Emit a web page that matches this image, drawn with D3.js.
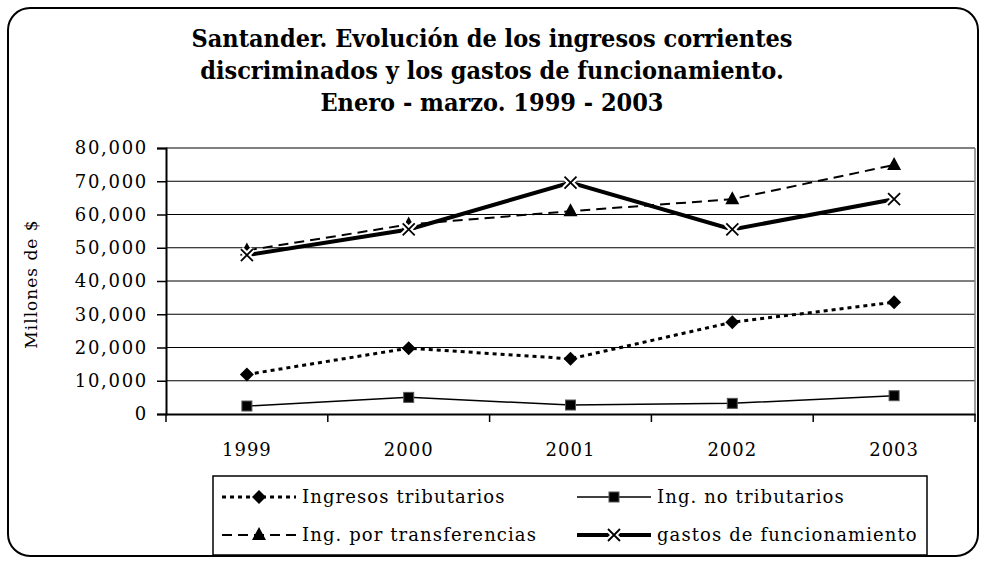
<!DOCTYPE html>
<html>
<head>
<meta charset="utf-8">
<script src="https://cdn.jsdelivr.net/npm/d3@7.9.0/dist/d3.min.js"></script>
<style>
  body { margin: 0; background: #fff; }
  svg { display: block; font-family: "DejaVu Serif", serif; }
</style>
</head>
<body>
<div id="chart"></div>
<script>
const years = ['1999', '2000', '2001', '2002', '2003'];
const tributarios = [11900, 19800, 16600, 27600, 33600];
const noTributarios = [2400, 5000, 2700, 3200, 5500];
const transferencias = [49200, 57000, 61000, 64600, 74900];
const gastos = [47800, 55500, 69600, 55500, 64600];
const yTicks = [0, 10000, 20000, 30000, 40000, 50000, 60000, 70000, 80000];
const titleLines = [
    'Santander. Evolución de los ingresos corrientes',
    'discriminados y los gastos de funcionamiento.',
    'Enero - marzo. 1999 - 2003'
];

const svg = d3.select('#chart')
    .append('svg')
    .attr('width', 984)
    .attr('height', 562);

// outer rounded frame
svg.append('rect')
    .attr('x', 8).attr('y', 8)
    .attr('width', 970).attr('height', 548)
    .attr('rx', 22).attr('ry', 22)
    .attr('fill', 'none')
    .attr('stroke', 'black')
    .attr('stroke-width', 2);

// title
svg.append('text')
    .attr('text-anchor', 'middle')
    .attr('font-family', '"DejaVu Serif Condensed", "DejaVu Serif", serif')
    .attr('font-weight', 'bold')
    .attr('font-size', 25)
    .selectAll('tspan')
    .data(titleLines)
    .join('tspan')
    .attr('x', 492)
    .attr('y', (d, i) => 47 + i * 32)
    .text(d => d);

const plot = { left: 166, right: 975, top: 148, bottom: 414 };

const x = d3.scaleBand()
    .domain(years)
    .range([plot.left, plot.right]);

const y = d3.scaleLinear()
    .domain([0, 80000])
    .range([plot.bottom, plot.top]);

// gridlines
svg.append('g')
    .selectAll('line')
    .data(yTicks.filter(d => d > 0))
    .join('line')
    .attr('x1', plot.left).attr('x2', plot.right)
    .attr('y1', d => y(d)).attr('y2', d => y(d))
    .attr('stroke', d => d === 80000 ? '#808080' : 'black')
    .attr('stroke-width', d => d === 80000 ? 2 : 1.2);

// right plot border
svg.append('line')
    .attr('x1', plot.right).attr('x2', plot.right)
    .attr('y1', plot.top).attr('y2', plot.bottom)
    .attr('stroke', '#808080')
    .attr('stroke-width', 1.5);

// y axis
const yAxis = svg.append('g')
    .attr('transform', `translate(${plot.left},0)`)
    .call(d3.axisLeft(y).tickValues(yTicks).tickSize(9).tickPadding(9)
        .tickFormat(d3.format(',')));
yAxis.select('.domain').attr('stroke-width', 2);
yAxis.selectAll('.tick line').attr('stroke-width', 1.5);
yAxis.selectAll('text')
    .attr('font-family', '"DejaVu Serif", serif')
    .attr('font-size', 18)
    .attr('letter-spacing', 1.7)
    .attr('fill', 'black');

// x axis
const xAxis = svg.append('g')
    .attr('transform', `translate(0,${plot.bottom})`)
    .call(d3.axisBottom(x).tickSize(0).tickPadding(29));
xAxis.select('.domain').attr('stroke-width', 2);
xAxis.selectAll('text')
    .attr('font-family', '"DejaVu Serif", serif')
    .attr('font-size', 18)
    .attr('letter-spacing', 1)
    .attr('fill', 'black');
// ticks between categories
svg.append('g')
    .selectAll('line')
    .data(years.map(d => x(d)).concat([plot.right]))
    .join('line')
    .attr('x1', d => d).attr('x2', d => d)
    .attr('y1', plot.bottom).attr('y2', plot.bottom + 8)
    .attr('stroke', 'black')
    .attr('stroke-width', 1.5);

// y label
svg.append('text')
    .attr('transform', 'translate(37,284) rotate(-90)')
    .attr('text-anchor', 'middle')
    .attr('font-size', 17)
    .attr('letter-spacing', 1)
    .text('Millones de $');

const series = [
    { name: 'Ingresos tributarios', values: tributarios, dash: '4 4', width: 3, marker: 'diamond' },
    { name: 'Ing. no tributarios', values: noTributarios, dash: null, width: 1.5, marker: 'square' },
    { name: 'Ing. por transferencias', values: transferencias, dash: '10 6', width: 2, marker: 'triangle' },
    { name: 'gastos de funcionamiento', values: gastos, dash: null, width: 4, marker: 'cross' }
];

function drawMarker(g, type, cx, cy) {
    if (type === 'diamond') {
        g.append('path')
            .attr('d', `M${cx},${cy - 7}L${cx + 7},${cy}L${cx},${cy + 7}L${cx - 7},${cy}Z`)
            .attr('fill', 'black');
    } else if (type === 'square') {
        g.append('rect')
            .attr('x', cx - 5).attr('y', cy - 5)
            .attr('width', 10).attr('height', 10)
            .attr('fill', 'black')
            .attr('stroke', '#555')
            .attr('stroke-width', 1);
    } else if (type === 'triangle') {
        g.append('path')
            .attr('d', `M${cx},${cy - 8}L${cx + 7},${cy + 5}L${cx - 7},${cy + 5}Z`)
            .attr('fill', 'black');
    } else if (type === 'cross') {
        g.append('path')
            .attr('d', `M${cx - 6},${cy - 6}L${cx + 6},${cy + 6}M${cx + 6},${cy - 6}L${cx - 6},${cy + 6}`)
            .attr('stroke', 'white')
            .attr('stroke-width', 6);
        g.append('path')
            .attr('d', `M${cx - 6},${cy - 6}L${cx + 6},${cy + 6}M${cx + 6},${cy - 6}L${cx - 6},${cy + 6}`)
            .attr('stroke', 'black')
            .attr('stroke-width', 1.8);
    }
}

const line = d3.line()
    .x((d, i) => x(years[i]) + x.bandwidth() / 2)
    .y(d => y(d));

series.forEach(s => {
    const g = svg.append('g');
    g.append('path')
        .attr('d', line(s.values))
        .attr('fill', 'none')
        .attr('stroke', 'black')
        .attr('stroke-width', s.width)
        .attr('stroke-dasharray', s.dash);
    s.values.forEach((v, i) => {
        drawMarker(g, s.marker, x(years[i]) + x.bandwidth() / 2, y(v));
    });
});

// legend
svg.append('rect')
    .attr('x', 213).attr('y', 476)
    .attr('width', 714).attr('height', 79)
    .attr('fill', 'white')
    .attr('stroke', 'black')
    .attr('stroke-width', 1.5);

const legendPos = [
    { x: 222, y: 497 },
    { x: 577, y: 497 },
    { x: 222, y: 535 },
    { x: 577, y: 535 }
];

series.forEach((s, i) => {
    const p = legendPos[i];
    const g = svg.append('g');
    g.append('line')
        .attr('x1', p.x).attr('x2', p.x + 74)
        .attr('y1', p.y).attr('y2', p.y)
        .attr('stroke', 'black')
        .attr('stroke-width', s.width)
        .attr('stroke-dasharray', s.dash);
    drawMarker(g, s.marker, p.x + 37, p.y);
    g.append('text')
        .attr('x', p.x + 80)
        .attr('y', p.y + 6)
        .attr('font-size', 18)
        .attr('letter-spacing', 1.1)
        .text(s.name);
});
</script>
</body>
</html>
